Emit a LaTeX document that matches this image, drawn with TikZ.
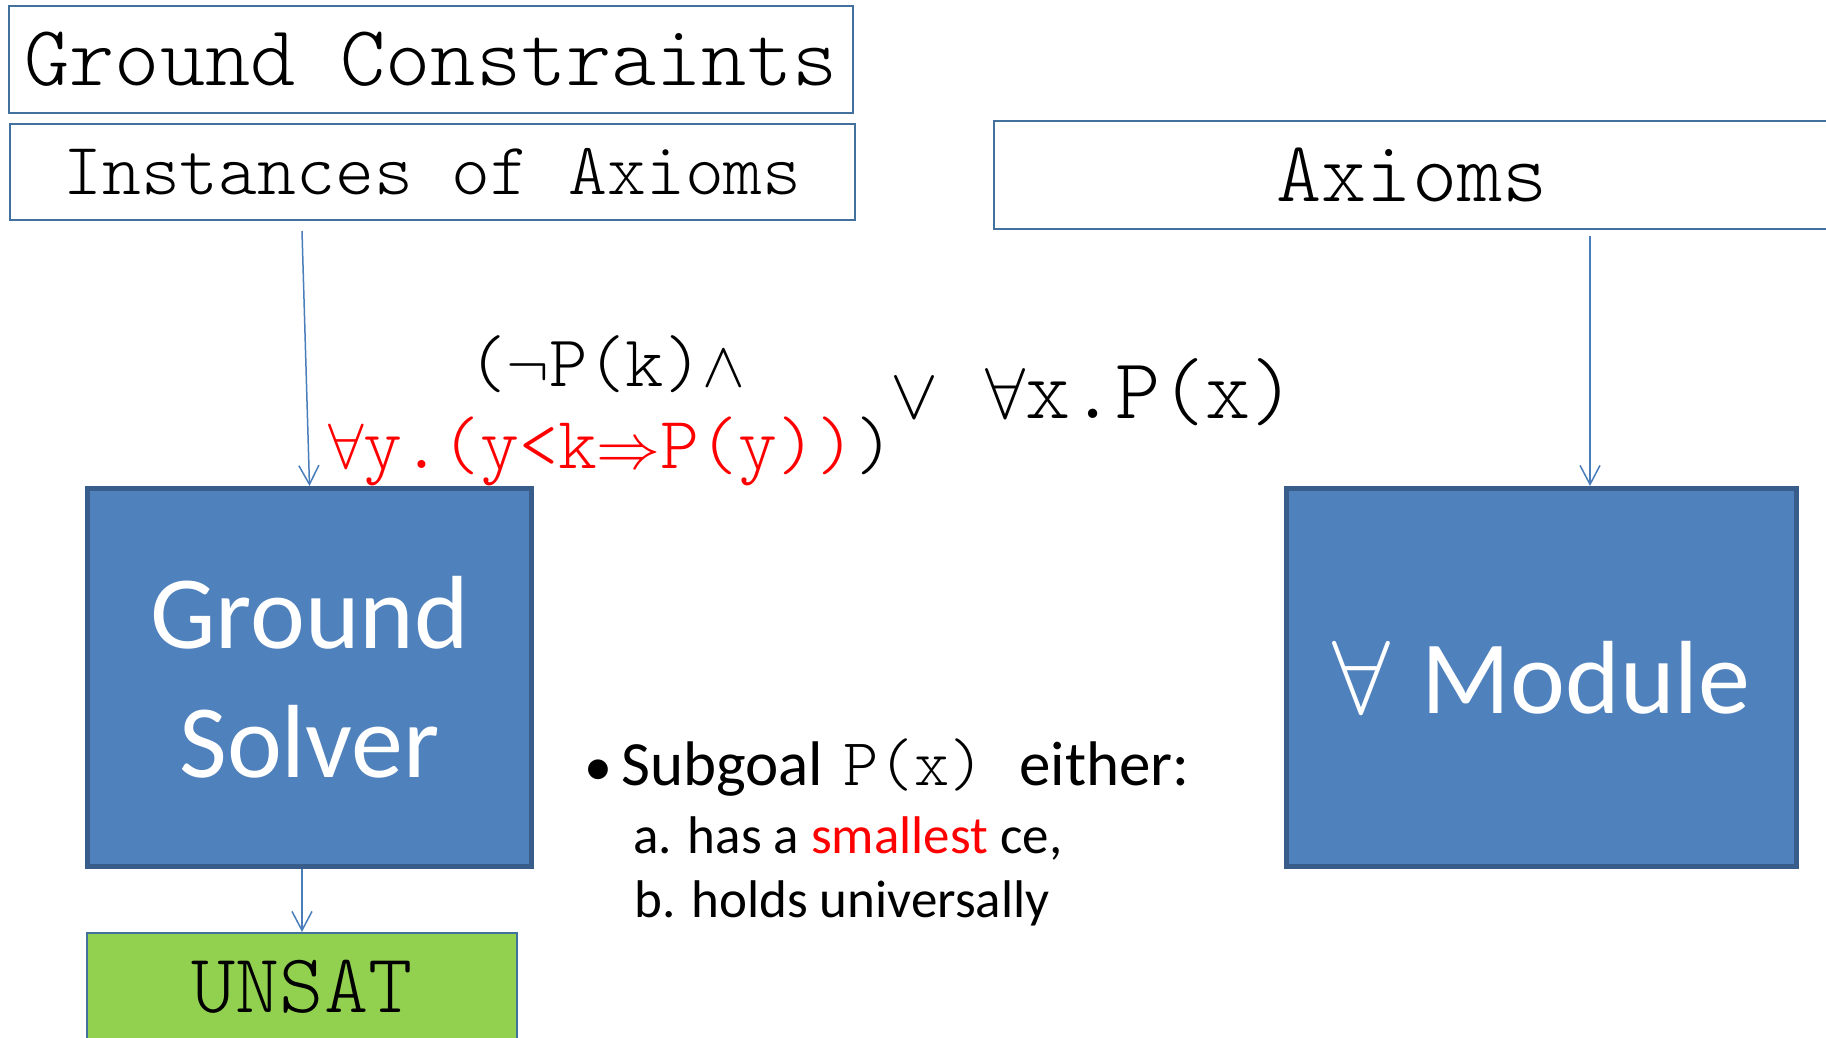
\RequirePackage{fix-cm}
\documentclass[tikz,border=0pt]{standalone}
\usepackage{fontspec}
\setmainfont{Carlito}
\newfontfamily\monofont{Latin Modern Mono Light}
\usetikzlibrary{arrows.meta}
\definecolor{boxblue}{HTML}{4F81BD}
\definecolor{boxedge}{HTML}{385D8A}
\definecolor{thinedge}{HTML}{41719C}
\definecolor{arrowblue}{HTML}{4A7EBB}
\definecolor{unsatgreen}{HTML}{92D050}
\definecolor{pptred}{HTML}{FF0000}
\newcommand\msym[2]{{\fontsize{#1}{#1}\selectfont$#2$}}
\begin{document}
\begin{tikzpicture}[x=1pt,y=-1pt,
  thinbox/.style={draw=thinedge,line width=2pt,inner sep=0pt},
  bigbox/.style={draw=boxedge,fill=boxblue,line width=5pt,inner sep=0pt,text=white,align=center,font=\fontsize{104}{129}\selectfont},
  arr/.style={draw=arrowblue,line width=1.5pt,-{Straight Barb[length=19pt,width=20pt]}},
  txt/.style={inner sep=0pt,anchor=base west}]
\useasboundingbox (0,0) rectangle (1826,1038);
\fill[white] (0,0) rectangle (1826,1038);
\clip (0,0) rectangle (1826,1038);

% top boxes
\node[thinbox,minimum width=844pt,minimum height=107pt,font=\monofont\fontsize{86}{86}\selectfont] (gc) at (431,59.5) {Ground Constraints};
\node[thinbox,minimum width=845pt,minimum height=96pt,font=\monofont\fontsize{74}{74}\selectfont] (inst) at (432.5,172) {Instances of Axioms};
\node[thinbox,minimum width=837pt,minimum height=108pt,font=\monofont\fontsize{86}{86}\selectfont] (ax) at (1412,175) {Axioms};

% solver boxes
\node[bigbox,minimum width=444pt,minimum height=378pt] (gs) at (309.5,677.5) {Ground\\Solver};
\node[bigbox,minimum width=510pt,minimum height=378pt] (mod) at (1541.5,677.5) {$\forall$ \kern8pt Module};

% unsat
\node[draw=thinedge,fill=unsatgreen,line width=2pt,inner sep=0pt,minimum width=430pt,minimum height=108pt,font=\monofont\fontsize{84}{84}\selectfont] (unsat) at (302,987) {UNSAT};

% connectors
\coordinate (i1) at (302,231);
\coordinate (a1) at (1590,236);
\draw[arr] (i1) -- (gs.north);
\draw[arr] (a1) -- (a1 |- mod.north);
\draw[arr] (unsat.north |- gs.south) -- (unsat.north);

% formula
\node[txt,font=\monofont\fontsize{73}{73}\selectfont] (f1) at (468,386) {(\msym{64}{\neg}P(k)\msym{64}{\wedge}};
\node[txt,font=\monofont\fontsize{74}{74}\selectfont] (f2) at (328,468) {\textcolor{pptred}{\msym{64}{\forall}y.(y<k\msym{64}{\Rightarrow}P(y))})};
\node[txt,font=\monofont\fontsize{86}{86}\selectfont] (f3) at (890,418) {\msym{72}{\vee}\kern47pt\msym{72}{\forall}x.P(x)};

% subgoal text
\node[txt,font=\fontsize{63}{63}\selectfont] (sg) at (584,785) {\makebox[37pt][l]{\fontsize{56}{56}\selectfont •}Subgoal \kern6pt{\monofont\fontsize{67}{67}\selectfont P(x) }either:};
\node[txt,font=\fontsize{53}{53}\selectfont] (sa) at (633,853) {a. has a \textcolor{pptred}{smallest} ce,};
\node[txt,font=\fontsize{53}{53}\selectfont] (sb) at (634,917) {b. holds universally};
\end{tikzpicture}
\end{document}
